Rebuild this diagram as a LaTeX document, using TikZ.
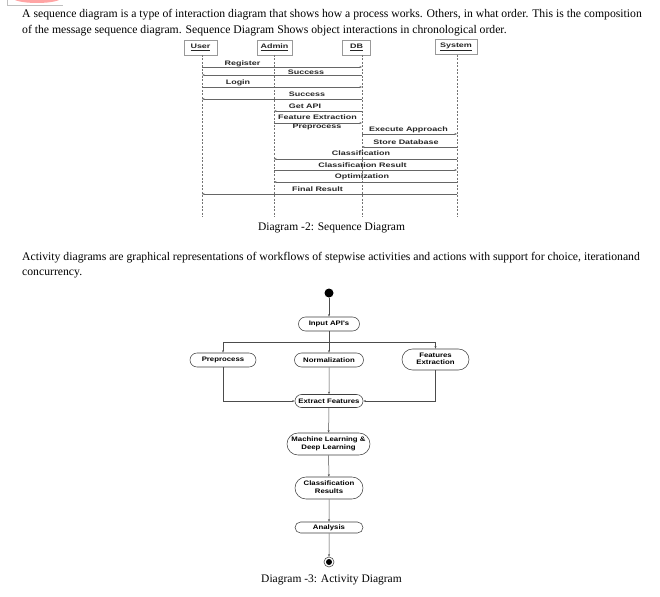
\documentclass[tikz,border=0pt]{standalone}
\usepackage{fontspec}
\setmainfont{Liberation Serif}
\newfontfamily\diagfont{Liberation Sans}
\usetikzlibrary{arrows.meta,shapes.misc,shadows}
\newcommand{\sx}[1]{\scalebox{1.2}[1]{#1}}
\newcommand{\sxs}[1]{\scalebox{1.38}[1]{#1}}
\newcommand{\tw}[1]{\sx{\begin{tabular}{@{}c@{}}#1\end{tabular}}}
\begin{document}
\begin{tikzpicture}[x=1pt,y=-1pt,
  body/.style={font=\fontsize{11.7}{13}\selectfont, anchor=base west, inner sep=0pt},
  captext/.style={font=\fontsize{11.5}{14}\selectfont, anchor=base, inner sep=0pt},
  obj/.style={draw=black!40, fill=white, line width=0.5pt, minimum height=15pt, inner sep=0pt,
    text=black!85, font=\diagfont\bfseries\fontsize{6.5}{7.5}\selectfont,
    drop shadow={shadow xshift=0.8pt, shadow yshift=-0.8pt, opacity=0.25}},
  life/.style={draw=black!55, line width=0.4pt, dash pattern=on 2pt off 1.5pt},
  msg/.style={draw=black!60, line width=0.5pt, -{Stealth[length=2.6pt,width=2pt]}},
  lbl/.style={text=black!85, font=\diagfont\bfseries\fontsize{6.5}{7.5}\selectfont, inner sep=0pt},
  act/.style={rounded rectangle, draw=black!75, line width=0.55pt, inner sep=0pt,
    font=\diagfont\bfseries\fontsize{6.5}{7.5}\selectfont},
  flow/.style={draw=black!70, line width=0.5pt},
  farr/.style={flow, -{Stealth[length=2.6pt,width=2pt]}}
]
\useasboundingbox (0,0) rectangle (660,596);
\fill[white] (0,0) rectangle (660,596);
% partial logo at top left
\begin{scope}
\clip (0,0) rectangle (660,596);
\draw[black!25, line width=0.5pt] (7,-1) -- (7,5) -- (63,5);
\fill[red!45!pink!60] (37,-2) ellipse [x radius=24pt, y radius=5pt];
\end{scope}

% intro text
\node[body] (t1) at (22,18) {A sequence diagram is a type of interaction diagram that shows how a process works. Others, in what order. This is the composition};
\node[body] (t2) at (22,34) {of the message sequence diagram. Sequence Diagram Shows object interactions in chronological order.};

% objects
\node[obj, minimum width=33pt] (user) at (200.5,47.5) {\sxs{\underline{User}}};
\node[obj, minimum width=35pt] (admin) at (274.5,47.5) {\sxs{\underline{Admin}}};
\node[obj, minimum width=28pt] (db) at (356.5,47.5) {\sxs{\underline{DB}}};
\node[obj, minimum width=42pt] (sys) at (456,47) {\sxs{\underline{System}}};

\coordinate (uL) at (202,55);
\coordinate (aL) at (274,55);
\coordinate (dL) at (362,55);
\coordinate (sL) at (457,55);
\coordinate (uE) at (202,217);
\coordinate (aE) at (274,217);
\coordinate (dE) at (362,217);
\coordinate (sE) at (457,217);
\draw[life] (uL) -- (uE);
\draw[life] (aL) -- (aE);
\draw[life] (dL) -- (dE);
\draw[life] (sL) -- (sE);

% messages
\draw[msg] (uL |- 0,67) -- (dL |- 0,67);
\node[lbl] (m1) at (242.5,64) {\sxs{Register}};
\draw[msg] (dL |- 0,75) -- (uL |- 0,75);
\node[lbl] (m2) at (306,72) {\sxs{Success}};
\draw[msg] (uL |- 0,87) -- (dL |- 0,87);
\node[lbl] (m3) at (238,83) {\sxs{Login}};
\draw[msg] (dL |- 0,99) -- (uL |- 0,99);
\node[lbl] (m4) at (307,94) {\sxs{Success}};
\draw[msg] (dL |- 0,111) -- (aL |- 0,111);
\node[lbl] (m5) at (305,106) {\sxs{Get API}};
\draw[msg] (aL |- 0,123) -- (dL |- 0,123);
\node[lbl] (m6) at (317.5,117) {\sxs{Feature Extraction}};
\node[lbl] (m7) at (317,127) {\sxs{Preprocess}};
\draw[msg] (dL |- 0,134) -- (sL |- 0,134);
\node[lbl] (m8) at (408.5,129.5) {\sxs{Execute Approach}};
\draw[msg] (sL |- 0,147) -- (dL |- 0,147);
\node[lbl] (m9) at (406,142) {\sxs{Store Database}};
\draw[msg] (sL |- 0,159) -- (aL |- 0,159);
\node[lbl] (m10) at (361,153.5) {\sxs{Classification}};
\draw[msg] (aL |- 0,170) -- (sL |- 0,170);
\node[lbl] (m11) at (362.5,165) {\sxs{Classification Result}};
\draw[msg] (sL |- 0,182) -- (aL |- 0,182);
\node[lbl] (m12) at (362,177) {\sxs{Optimization}};
\draw[msg] (sL |- 0,194) -- (uL |- 0,194);
\node[lbl] (m13) at (317.5,189) {\sxs{Final Result}};

\node[captext] (c2) at (331.5,230) {Diagram -2: Sequence Diagram};

\node[body] (t3) at (22,260) {Activity diagrams are graphical representations of workflows of stepwise activities and actions with support for choice, iterationand};
\node[body] (t4) at (22,275) {concurrency.};

% activity diagram
\node[circle, fill=black, inner sep=0pt, minimum size=9pt] (start) at (329,293) {};
\node[act, minimum width=61pt, minimum height=14pt] (inp) at (329,324) {\sx{Input API's}};
\coordinate (br) at (329,342);
\node[act, minimum width=66pt, minimum height=14pt] (pre) at (223,360) {\sx{Preprocess}};
\node[act, minimum width=69pt, minimum height=14pt] (nor) at (329,360) {\sx{Normalization}};
\node[act, minimum width=67pt, minimum height=21pt] (fex) at (435.5,359.5) {\tw{Features\\Extraction}};
\node[act, minimum width=68pt, minimum height=13pt] (ext) at (329,401) {\sx{Extract Features}};
\node[act, minimum width=83pt, minimum height=22pt] (ml) at (328.5,444) {\tw{Machine Learning \&\\Deep Learning}};
\node[act, minimum width=68pt, minimum height=22pt] (cr) at (329,488) {\tw{Classification\\Results}};
\node[act, minimum width=68pt, minimum height=11pt] (an) at (329,527.5) {\sx{Analysis}};
\node[circle, draw=black!70, line width=0.6pt, fill=white, inner sep=0pt, minimum size=10pt] (fin) at (329,562) {};
\fill[black] (fin.center) circle (3pt);

\draw[farr] (start) -- (inp);
\draw[flow] (inp) -- (br);
\draw[flow] (pre.north |- br) -- (fex.north |- br);
\draw[farr] (pre.north |- br) -- (pre.north);
\draw[farr] (br) -- (nor);
\draw[farr] (fex.north |- br) -- (fex.north);
\draw[farr] (pre.south) -- (pre.south |- ext) -- (ext.west);
\draw[farr] (fex.south) -- (fex.south |- ext) -- (ext.east);
\draw[farr] (nor) -- (ext);
\draw[farr] (ext) -- (ml);
\draw[farr] (ml) -- (cr);
\draw[farr] (cr) -- (an);
\draw[farr] (an) -- (fin);

\node[captext] (c3) at (331.5,582) {Diagram -3: Activity Diagram};
\end{tikzpicture}
\end{document}
